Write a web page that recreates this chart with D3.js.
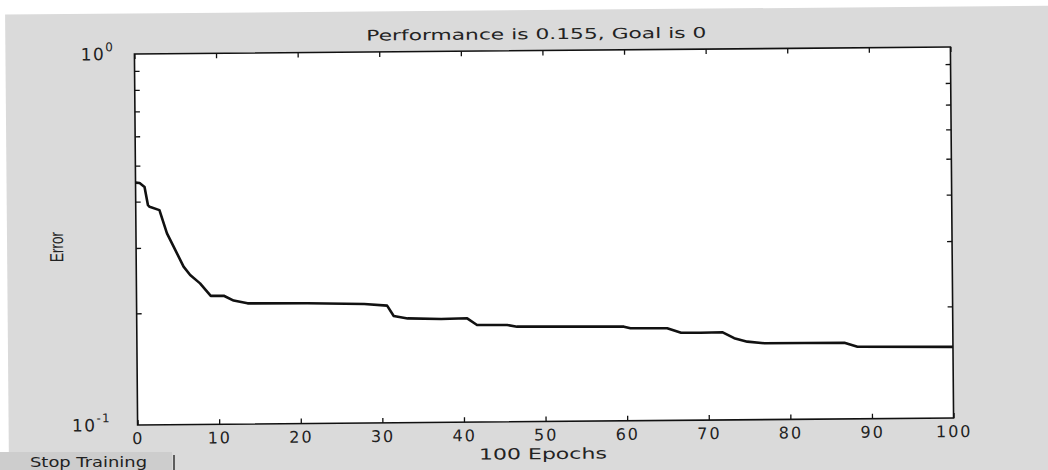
<!DOCTYPE html>
<html>
<head>
<meta charset="utf-8">
<script src="https://cdn.jsdelivr.net/npm/d3@7"></script>
<style>
  html, body { margin: 0; padding: 0; background: #fff; }
  svg { display: block; }
</style>
</head>
<body>
<script>
// training record
const epochs = [0, 0.5, 1.1, 1.5, 1.7, 2.9, 3.8, 4.6, 5.8, 6.6, 7.8, 9.1, 10.7, 11.9, 13.6,
  20.9, 27.9, 30.7, 31.5, 33.2, 37.3, 40.5, 41.7, 45.4, 46.6, 59.7, 60.5, 65.0, 66.7,
  69.1, 71.8, 73.2, 74.8, 76.9, 86.7, 88.3, 100];
const errors = [0.450, 0.449, 0.438, 0.391, 0.387, 0.379, 0.328, 0.302, 0.2665, 0.253, 0.240,
  0.222, 0.222, 0.2153, 0.2115, 0.2109, 0.2093, 0.207, 0.194, 0.191, 0.190, 0.1905, 0.1827,
  0.1824, 0.1804, 0.1794, 0.1776, 0.1772, 0.1722, 0.1721, 0.1723, 0.166, 0.1624, 0.1606,
  0.1604, 0.1564, 0.1555];

const xTicks = [0, 10, 20, 30, 40, 50, 60, 70, 80, 90, 100];
const yMinor = [0.2, 0.3, 0.4, 0.5, 0.6, 0.7, 0.8, 0.9];
const yLabels = [1, 0.1];
const yExps = ["0", "-1"];

const title = "Performance is 0.155, Goal is 0";
const xTitle = "100 Epochs";
const yTitle = "Error";
const buttonText = "Stop Training";

const W = 1048, H = 470;
const pL = 136, pR = 952, pT = 50.5, pB = 421.5;

const svg = d3.select("body").append("svg")
  .attr("width", W)
  .attr("height", H);

// the scan is a little crooked
const g = svg.append("g")
  .attr("transform", "rotate(-0.49, 544, 236)");

g.append("rect")
  .attr("x", 7).attr("y", 10)
  .attr("width", 1100).attr("height", 500)
  .attr("fill", "#dadada");

const x = d3.scaleLinear().domain([0, 100]).range([pL, pR]);
const y = d3.scaleLog().domain([0.1, 1]).range([pB, pT]);

g.append("rect")
  .attr("x", pL).attr("y", pT)
  .attr("width", pR - pL).attr("height", pB - pT)
  .attr("fill", "#fff");

const fontTick = "'DejaVu Sans', sans-serif";

// axes, ticks pointing inward
const xb = g.append("g")
  .attr("transform", `translate(0,${pB})`)
  .call(d3.axisBottom(x).tickValues(xTicks).tickSize(-5).tickSizeOuter(0));
xb.selectAll("text")
  .attr("fill", "#222")
  .attr("font-family", fontTick)
  .attr("font-size", 16)
  .attr("letter-spacing", 2)
  .attr("dy", 0)
  .attr("y", 19);

const xt = g.append("g")
  .attr("transform", `translate(0,${pT})`)
  .call(d3.axisTop(x).tickValues(xTicks).tickSize(-5).tickSizeOuter(0).tickFormat(""));

const yl = g.append("g")
  .attr("transform", `translate(${pL},0)`)
  .call(d3.axisLeft(y).tickValues(yMinor).tickSize(-5).tickSizeOuter(0).tickFormat(""));

const yr = g.append("g")
  .attr("transform", `translate(${pR},0)`)
  .call(d3.axisRight(y).tickValues(yMinor).tickSize(-5).tickSizeOuter(0).tickFormat(""));

[xb, xt, yl, yr].forEach(a => {
  a.select(".domain").remove();
  a.selectAll("line").attr("stroke", "#111").attr("stroke-width", 1.3);
});

g.append("rect")
  .attr("x", pL).attr("y", pT)
  .attr("width", pR - pL).attr("height", pB - pT)
  .attr("fill", "none")
  .attr("stroke", "#111")
  .attr("stroke-width", 1.6);

// y tick labels with superscript exponents
const ylab = g.selectAll(".ylab").data(yLabels).enter().append("text")
  .attr("class", "ylab")
  .attr("font-family", fontTick)
  .attr("font-size", 17)
  .attr("letter-spacing", 1.5)
  .attr("fill", "#222")
  .attr("text-anchor", "end")
  .attr("x", (d, i) => pL - 14 - yExps[i].length * 6.5)
  .attr("y", d => y(d) + 6);
ylab.append("tspan").text("10");
ylab.append("tspan")
  .attr("font-size", 12)
  .attr("letter-spacing", 1)
  .attr("dy", -9)
  .text((d, i) => yExps[i]);

// performance curve
const pts = epochs.map((e, i) => [e, errors[i]]);
g.append("path")
  .datum(pts)
  .attr("fill", "none")
  .attr("stroke", "#111")
  .attr("stroke-width", 2.6)
  .attr("stroke-linejoin", "round")
  .attr("d", d3.line().x(d => x(d[0])).y(d => y(d[1])));

// titles
g.append("text")
  .attr("x", 538).attr("y", 39)
  .attr("text-anchor", "middle")
  .attr("font-family", fontTick)
  .attr("font-size", 14.5)
  .attr("fill", "#222")
  .attr("textLength", 340)
  .attr("lengthAdjust", "spacingAndGlyphs")
  .text(title);

g.append("text")
  .attr("x", 541).attr("y", 459)
  .attr("text-anchor", "middle")
  .attr("font-family", fontTick)
  .attr("font-size", 15)
  .attr("fill", "#222")
  .attr("textLength", 128)
  .attr("lengthAdjust", "spacingAndGlyphs")
  .text(xTitle);

g.append("text")
  .attr("transform", "translate(63,243) rotate(-90)")
  .attr("text-anchor", "middle")
  .attr("font-family", "'Liberation Sans', sans-serif")
  .attr("font-size", 19)
  .attr("fill", "#222")
  .attr("textLength", 30)
  .attr("lengthAdjust", "spacingAndGlyphs")
  .text(yTitle);

// the Stop Training button in the corner
svg.append("rect")
  .attr("x", 0).attr("y", 452)
  .attr("width", 172).attr("height", 18)
  .attr("fill", "#cdcdcd");
svg.append("line")
  .attr("x1", 174).attr("x2", 174)
  .attr("y1", 455).attr("y2", 470)
  .attr("stroke", "#333").attr("stroke-width", 1.5);
svg.append("text")
  .attr("x", 30).attr("y", 467)
  .attr("font-family", fontTick)
  .attr("font-size", 14)
  .attr("fill", "#222")
  .attr("textLength", 117)
  .attr("lengthAdjust", "spacingAndGlyphs")
  .text(buttonText);
</script>
</body>
</html>
